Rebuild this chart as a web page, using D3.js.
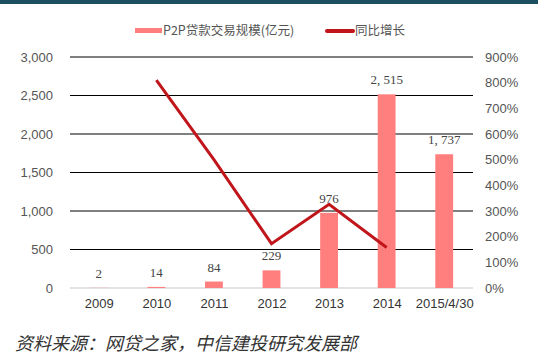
<!DOCTYPE html>
<html><head><meta charset="utf-8">
<script src="https://cdn.jsdelivr.net/npm/d3@7"></script>
<style>body{margin:0;background:#fff;}svg{display:block;}</style>
</head><body>
<svg id="c" width="538" height="357"></svg>
<script>
const categories = ["2009","2010","2011","2012","2013","2014","2015/4/30"];
const volume = [2, 14, 84, 229, 976, 2515, 1737];
const volumeLabels = ["2","14","84","229","976","2, 515","1, 737"];
const growthCats = ["2010","2011","2012","2013","2014"];
const growth = [8.1, 5.0, 1.726, 3.26, 1.58];
const leftTicks = [0,500,1000,1500,2000,2500,3000];
const rightTicks = [0,1,2,3,4,5,6,7,8,9];
const seriesNames = ["P2P贷款交易规模(亿元)","同比增长"];
const sourceText = "资料来源：网贷之家，中信建投研究发展部";

const svg = d3.select("#c");
const m = {l:70, r:65, t:57, b:69};
const W = 538, H = 357;
const x = d3.scaleBand().domain(categories).range([m.l, W-m.r]).paddingInner(0.69).paddingOuter(0.345);
const xc = d3.scalePoint().domain(categories).range([m.l + (W-m.l-m.r)/14, W-m.r-(W-m.l-m.r)/14]);
const y = d3.scaleLinear().domain([0,3000]).range([288,57]);
const y2 = d3.scaleLinear().domain([0,9]).range([288,57]);

// top bar
svg.append("rect").attr("x",0).attr("y",0).attr("width",W).attr("height",4).attr("fill","#1c4f62");

// gridlines
svg.append("g").selectAll("line").data(leftTicks).join("line")
  .attr("x1",m.l).attr("x2",W-m.r).attr("y1",d=>y(d)).attr("y2",d=>y(d))
  .attr("stroke",d=>d===0?"#c8c8c8":"#000").attr("stroke-width",1.2);

// left axis
const la = svg.append("g").attr("transform",`translate(${m.l-14},0)`)
  .call(d3.axisLeft(y).tickValues(leftTicks).tickSize(0).tickFormat(d3.format(",")));
la.select(".domain").remove();
la.selectAll("text").attr("font-family","Liberation Sans, Arial, sans-serif").attr("font-size",13).attr("fill","#555");

// right axis
const ra = svg.append("g").attr("transform",`translate(${W-m.r+9},0)`)
  .call(d3.axisRight(y2).tickValues(rightTicks).tickSize(0).tickFormat(d=>d*100+"%"));
ra.select(".domain").remove();
ra.selectAll("text").attr("font-family","Liberation Sans, Arial, sans-serif").attr("font-size",13).attr("fill","#555");

// x axis
const xa = svg.append("g").attr("transform",`translate(0,${288+6})`)
  .call(d3.axisBottom(xc).tickSize(0));
xa.select(".domain").remove();
xa.selectAll("text").attr("font-family","Liberation Sans, Arial, sans-serif").attr("font-size",13).attr("fill","#333").attr("dy","0.85em");

// bars
svg.append("g").selectAll("rect").data(volume).join("rect")
  .attr("x",(d,i)=>x(categories[i])).attr("width",x.bandwidth())
  .attr("y",d=>y(d)).attr("height",d=>288-y(d)).attr("fill","#ff7f7f");

// bar labels
svg.append("g").selectAll("text").data(volume).join("text")
  .attr("x",(d,i)=>xc(categories[i])).attr("y",d=>y(d)-10)
  .attr("text-anchor","middle").attr("font-family","Liberation Serif, DejaVu Serif, serif")
  .attr("font-size",13).attr("fill","#444").text((d,i)=>volumeLabels[i]);

// line
svg.append("path").datum(growth)
  .attr("d", d3.line().x((d,i)=>xc(growthCats[i])).y(d=>y2(d)))
  .attr("fill","none").attr("stroke","#c0151b").attr("stroke-width",3);

// legend
svg.append("rect").attr("x",135).attr("y",28).attr("width",27).attr("height",5).attr("fill","#ff7f7f");
svg.append("text").attr("x",163).attr("y",35).attr("font-family","Noto Sans CJK SC, sans-serif").attr("font-size",12.5).attr("fill","#555").text(seriesNames[0]);
svg.append("line").attr("x1",327).attr("x2",353).attr("y1",31).attr("y2",31).attr("stroke","#c0151b").attr("stroke-width",4).attr("stroke-linecap","round");
svg.append("text").attr("x",355).attr("y",35).attr("font-family","Noto Sans CJK SC, sans-serif").attr("font-size",12.5).attr("fill","#555").text(seriesNames[1]);

// source
svg.append("text").attr("x",15).attr("y",350).attr("font-family","Noto Sans CJK SC, sans-serif").attr("font-size",18).attr("font-style","italic").attr("fill","#333").text(sourceText);
</script>
</body></html>
